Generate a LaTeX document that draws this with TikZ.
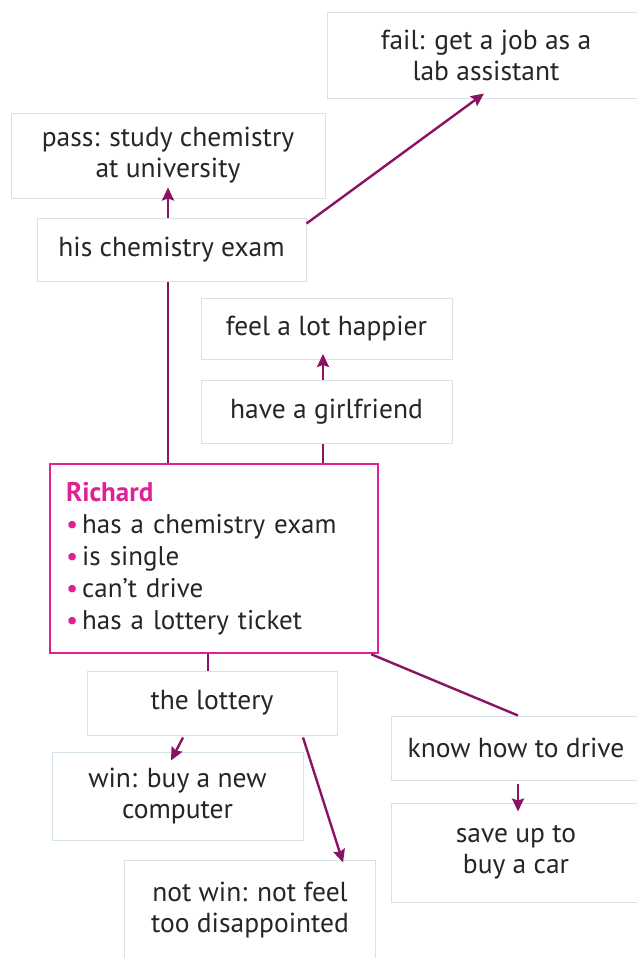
\documentclass[tikz,border=0pt]{standalone}
\usepackage{fontspec}
\setmainfont{PT Sans}
\usetikzlibrary{arrows.meta}
\definecolor{arrcol}{RGB}{138,20,100}
\definecolor{magcol}{RGB}{222,34,150}
\definecolor{boxcol}{RGB}{214,226,234}
\tikzset{
  box/.style={draw=boxcol, line width=1pt, fill=white, inner sep=0pt, align=center,
    font=\fontsize{27.5}{31}\selectfont, text=black!85},
  conn/.style={draw=arrcol, line width=2.4pt},
  arr/.style={conn, -{Stealth[length=13pt,width=12pt,inset=2pt]}},
}
\begin{document}
\begin{tikzpicture}[x=1pt,y=-1pt]
\clip (0,0) rectangle (637,958);
\fill[white] (0,0) rectangle (637,958);
\node[box, minimum width=318pt, minimum height=85pt] (fail) at (486,55.5) {fail: get a job as a\\lab assistant};
\node[box, minimum width=314pt, minimum height=85pt] (pass) at (168,155.5) {pass: study chemistry\\at university};
\node[box, minimum width=269pt, minimum height=63pt] (exam) at (171.5,249.5) {his chemistry exam};
\node[box, minimum width=251pt, minimum height=61pt] (happy) at (326.5,329) {feel a lot happier};
\node[box, minimum width=251pt, minimum height=63pt] (girl) at (326.5,411.5) {have a girlfriend};
\node[draw=magcol, line width=2.5pt, fill=white, minimum width=328pt, minimum height=189pt,
  text width=296pt, inner sep=0pt, align=left, font=\fontsize{27}{32}\selectfont, text=black!85]
  (rich) at (214,558.5) {{\color{magcol}\bfseries Richard}\\
  {\color{magcol}\textbullet}\hspace{4pt}has a chemistry exam\\
  {\color{magcol}\textbullet}\hspace{4pt}is single\\
  {\color{magcol}\textbullet}\hspace{4pt}can’t drive\\
  {\color{magcol}\textbullet}\hspace{4pt}has a lottery ticket};
\node[box, minimum width=250pt, minimum height=64pt] (lottery) at (212,703) {the lottery};
\node[box, minimum width=251pt, minimum height=88pt] (win) at (177.5,796) {win: buy a new\\computer};
\node[box, minimum width=251pt, minimum height=100pt] (notwin) at (250,910) {not win: not feel\\too disappointed};
\node[box, minimum width=250pt, minimum height=64pt] (know) at (516,748) {know how to drive};
\node[box, minimum width=250pt, minimum height=99pt] (save) at (516,852.5) {save up to\\buy a car};
\draw[arr] ([xshift=-3.5pt]exam.north) -- ([xshift=0pt,yshift=11pt]pass.south);
\draw[arr] ([yshift=-6pt]exam.north east) -- ([xshift=-2pt,yshift=5pt]fail.south);
\draw[conn] ([xshift=-3.5pt]exam.south) -- ([xshift=-3.5pt]exam.south |- rich.north);
\draw[arr] ([xshift=-3.5pt]girl.north) -- ([xshift=-3.5pt,yshift=6pt]happy.south);
\draw[conn] ([xshift=-3.5pt]girl.south) -- ([xshift=-3.5pt]girl.south |- rich.north);
\draw[conn] ([xshift=-4pt]lottery.north) -- ([xshift=-4pt]lottery.north |- rich.south);
\draw[arr] ([xshift=-29pt,yshift=-2pt]lottery.south) -- ([xshift=-6.5pt,yshift=-9pt]win.north);
\draw[arr] ([xshift=91pt,yshift=-2pt]lottery.south) -- ([xshift=93pt,yshift=-3pt]notwin.north);
\draw[conn] ([xshift=-8pt]rich.south east) -- ([xshift=2pt]know.north);
\draw[arr] ([xshift=2pt,yshift=-3pt]know.south) -- ([xshift=2pt,yshift=-9pt]save.north);
\end{tikzpicture}
\end{document}
